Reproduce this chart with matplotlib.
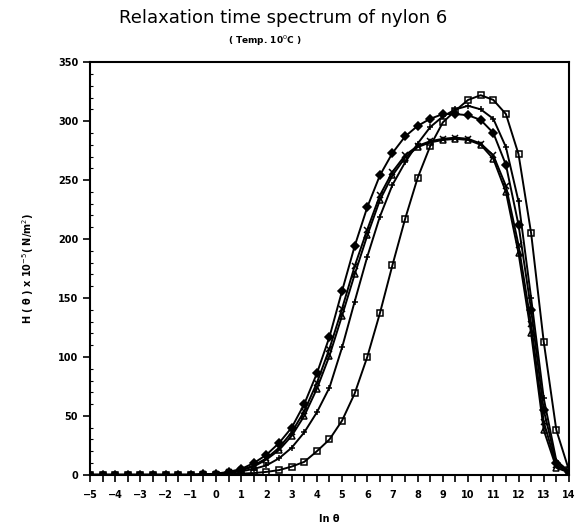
import numpy as np
import matplotlib
matplotlib.use('Agg')
import matplotlib.pyplot as plt
from matplotlib.ticker import MultipleLocator

# ln(theta) from -5 to 14 in steps of 0.5
ln_theta = np.arange(-5, 14.01, 0.5)

lead = [0.0] * 10  # -5 .. -0.5

h_square = lead + [0.0, 0.5, 1.0, 1.5, 2.5, 4, 7, 11, 20, 30, 46, 69, 100, 137, 178,
                   217, 252, 279, 299, 309, 318, 322, 318, 306, 272, 205, 113, 38, 4]
h_plus = lead[:-1] + [0.3, 0.8, 1.5, 3, 5, 8, 14, 23, 36, 53, 74, 108, 147, 185, 219, 246,
                      265, 281, 295, 304, 310, 313, 310, 302, 278, 232, 150, 65, 12, 3]
h_diamond = lead[:-1] + [0.4, 1.0, 2.5, 5, 10, 17, 27, 40, 60, 86, 117, 156, 194, 227, 254, 273,
                         287, 296, 302, 306, 306, 305, 301, 290, 263, 212, 140, 55, 10, 2]
h_cross = lead[:-1] + [0.3, 0.8, 2, 4, 8, 14, 23, 36, 54, 78, 107, 141, 177, 208, 237, 257,
                       271, 279, 283, 285, 286, 285, 281, 271, 245, 195, 128, 45, 8, 2]
h_triangle = lead[:-1] + [0.3, 0.8, 2, 4, 7, 13, 21, 33, 50, 73, 101, 135, 170, 203, 233, 254,
                          269, 278, 282, 284, 285, 284, 280, 268, 240, 188, 120, 38, 6, 2]

series = [
    (h_square, 's', 'none'),
    (h_plus, '+', 'k'),
    (h_diamond, 'D', 'k'),
    (h_cross, 'x', 'k'),
    (h_triangle, '^', 'none'),
]

fig = plt.figure(figsize=(5.77, 5.27), dpi=100)
ax = fig.add_axes([0.156, 0.099, 0.83, 0.783])

for vals, mk, fc in series:
    ax.plot(ln_theta, vals, color='k', lw=1.4, marker=mk, markersize=4,
            markerfacecolor=fc, markeredgecolor='k', markeredgewidth=1.1)

ax.set_xlim(-5, 14)
ax.set_ylim(0, 350)
ax.set_xticks(np.arange(-5, 15, 1))
ax.xaxis.set_minor_locator(MultipleLocator(0.5))
ax.set_yticks(np.arange(0, 351, 50))
ax.yaxis.set_minor_locator(MultipleLocator(10))
ax.tick_params(axis='x', which='both', direction='out', length=5, width=1.2, pad=6)
ax.tick_params(axis='y', which='major', direction='out', length=5, width=1.2)
ax.tick_params(axis='y', which='minor', direction='in', length=2, width=0.8)
for lbl in ax.get_xticklabels() + ax.get_yticklabels():
    lbl.set_fontsize(7)
    lbl.set_fontweight('bold')
for s in ax.spines.values():
    s.set_linewidth(1.5)

ax.set_xlabel('ln θ', fontsize=7, fontweight='bold', labelpad=10)
ax.set_ylabel('H ( θ ) x 10$^{-5}$( N/m$^{2}$)', fontsize=7, fontweight='bold', labelpad=16)

fig.text(0.49, 0.966, 'Relaxation time spectrum of nylon 6', ha='center', va='center', fontsize=13)
fig.text(0.46, 0.923, '( Temp. 10$^{0}$C )', ha='center', va='center', fontsize=6.5, fontweight='bold')

plt.savefig('out.png', dpi=100)
plt.close()
